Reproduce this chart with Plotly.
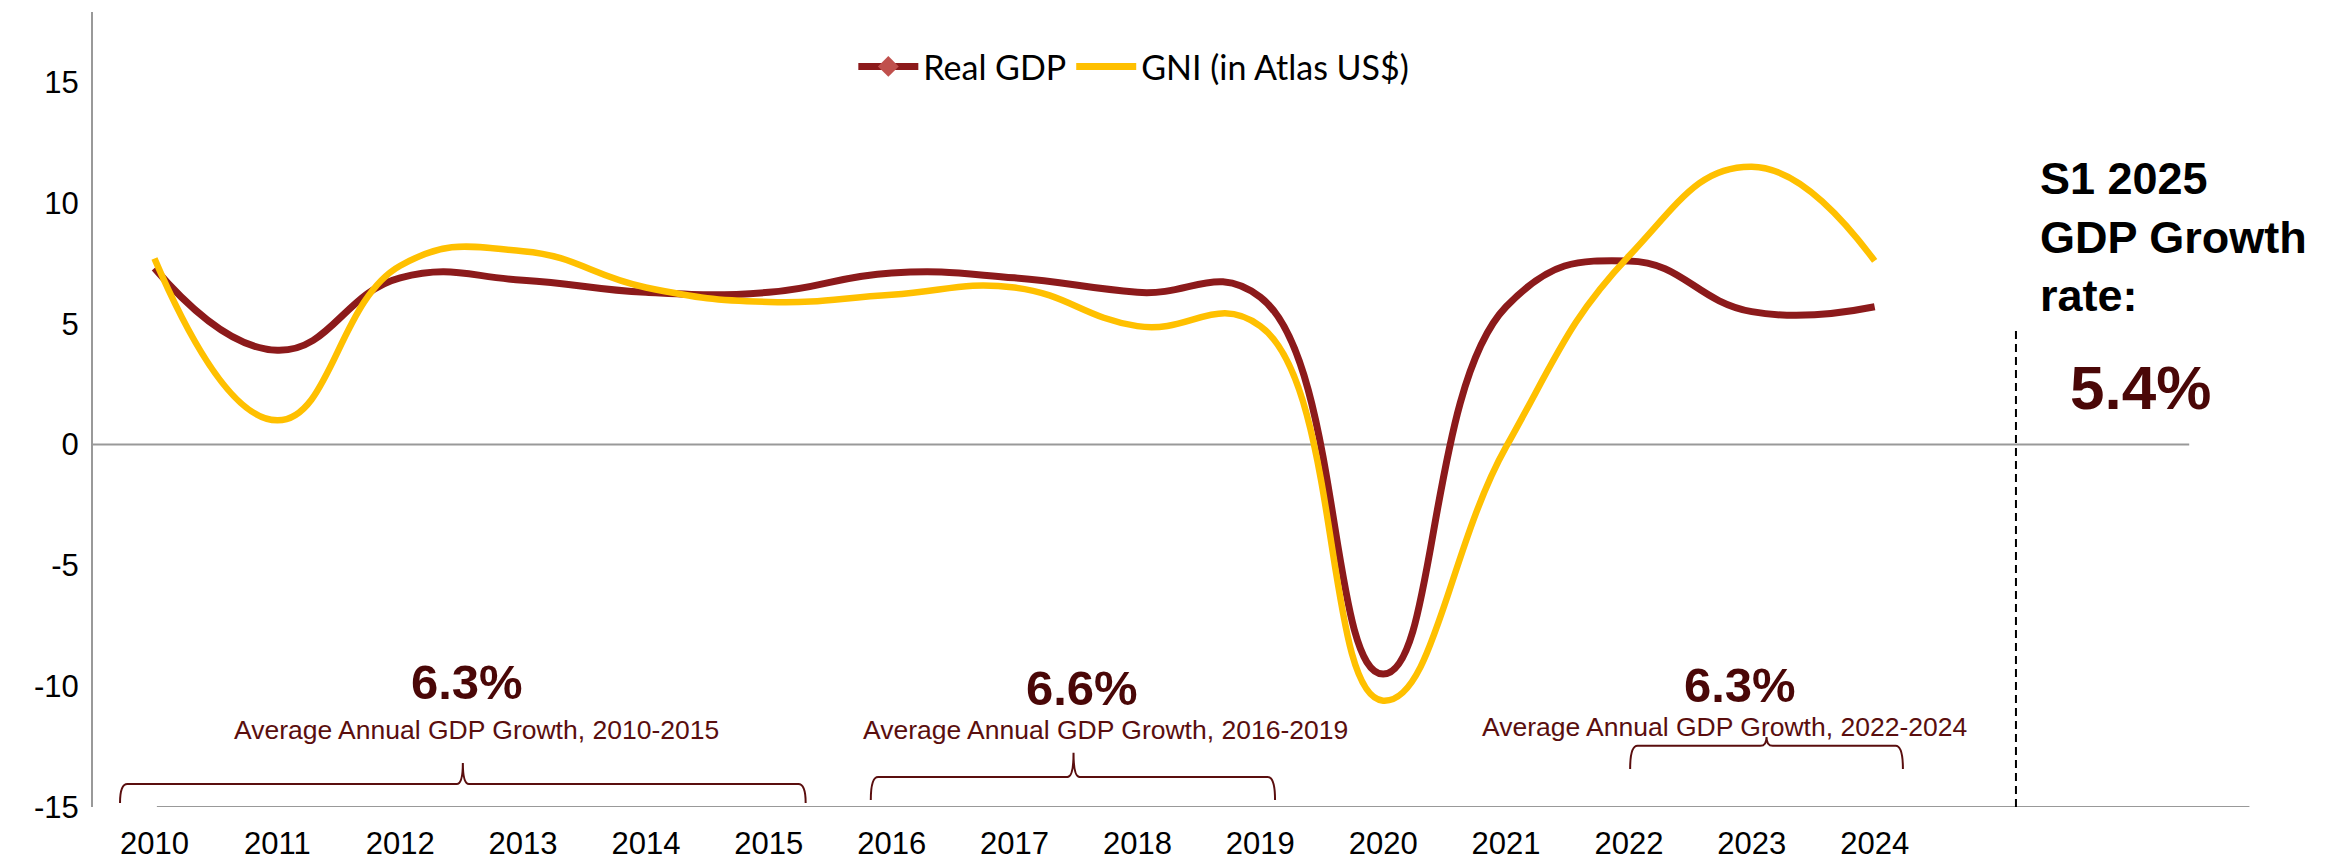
import plotly.graph_objects as go

# ---- data ----
years = [2010, 2011, 2012, 2013, 2014, 2015, 2016, 2017, 2018, 2019, 2020, 2021, 2022, 2023, 2024]
year_labels = [str(y) for y in years]
real_gdp = [7.3, 3.9, 6.9, 6.8, 6.3, 6.3, 7.1, 6.9, 6.3, 6.1, -9.5, 5.7, 7.6, 5.5, 5.7]
gni_atlas = [7.7, 1.0, 7.4, 8.0, 6.5, 5.9, 6.2, 6.5, 4.9, 4.9, -10.6, -0.1, 7.8, 11.5, 7.6]
y_ticks = [-15, -10, -5, 0, 5, 10, 15]

period_avgs = ["6.3%", "6.6%", "6.3%"]
period_labels = ["Average Annual GDP Growth, 2010-2015",
                 "Average Annual GDP Growth, 2016-2019",
                 "Average Annual GDP Growth, 2022-2024"]
s1_title = "S1 2025<br>GDP Growth<br>rate:"
s1_value = "5.4%"

# ---- styles / positions ----
RED = "#8C1A1B"
RED_MARK = "#C0504D"
YELLOW = "#FFC000"
MAROON = "#4A0707"
MAROON_TXT = "#5A0E0E"
AXIS_GRAY = "#999999"
FONT = "Liberation Sans, Arial, sans-serif"

fig = go.Figure()
fig.add_trace(go.Scatter(x=years, y=real_gdp, mode="lines", name="Real GDP",
                         line=dict(color=RED, width=7, shape="spline", smoothing=1.3),
                         showlegend=False))
fig.add_trace(go.Scatter(x=years, y=gni_atlas, mode="lines", name="GNI (in Atlas US$)",
                         line=dict(color=YELLOW, width=6.5, shape="spline", smoothing=1.3),
                         showlegend=False))
# legend proxies
fig.add_trace(go.Scatter(x=[None], y=[None], mode="lines+markers", name="Real GDP",
                         line=dict(color=RED, width=7),
                         marker=dict(symbol="diamond", size=20, color=RED_MARK)))
fig.add_trace(go.Scatter(x=[None], y=[None], mode="lines", name="GNI (in Atlas US$)",
                         line=dict(color=YELLOW, width=7)))

shapes = []
# zero line and bottom baseline
shapes.append(dict(type="line", xref="x", yref="y", x0=2009.5, x1=2026.56, y0=0, y1=0,
                   line=dict(color=AXIS_GRAY, width=2), layer="below"))
shapes.append(dict(type="line", xref="x", yref="y", x0=2010.02, x1=2027.05, y0=-15, y1=-15,
                   line=dict(color=AXIS_GRAY, width=2), layer="below"))
# dashed separator
shapes.append(dict(type="line", xref="x", yref="y", x0=2025.15, x1=2025.15, y0=-15, y1=4.74,
                   line=dict(color="black", width=2, dash="8px,5px")))

# curly brackets (xl, xm, xr, y_horizontal, y_bottom, y_tip)
brackets = [
    (2009.72, 2012.51, 2015.30, -14.05, -14.83, -13.18),
    (2015.83, 2017.48, 2019.12, -13.76, -14.71, -12.76),
    (2022.01, 2023.12, 2024.23, -12.47, -13.43, -12.10),
]
for xl, xm, xr, yh, yb, yt in brackets:
    dx = 0.06
    dm = 0.05
    path = (f"M {xl},{yb} Q {xl},{yh} {xl+dx},{yh} L {xm-dm},{yh} "
            f"Q {xm},{yh} {xm},{yt} Q {xm},{yh} {xm+dm},{yh} "
            f"L {xr-dx},{yh} Q {xr},{yh} {xr},{yb}")
    shapes.append(dict(type="path", xref="x", yref="y", path=path,
                       line=dict(color=MAROON_TXT, width=2)))

annotations = []
avg_pos = [(2012.54, -9.83), (2017.55, -10.07), (2022.90, -9.95)]
lab_pos = [(2012.62, -11.81), (2017.74, -11.81), (2022.78, -11.69)]
for txt, (x, y) in zip(period_avgs, avg_pos):
    annotations.append(dict(x=x, y=y, xref="x", yref="y", text=f"<b>{txt}</b>", showarrow=False,
                            font=dict(family=FONT, size=49, color=MAROON),
                            xanchor="center", yanchor="middle"))
for txt, (x, y) in zip(period_labels, lab_pos):
    annotations.append(dict(x=x, y=y, xref="x", yref="y", text=txt, showarrow=False,
                            font=dict(family=FONT, size=26.5, color=MAROON_TXT),
                            xanchor="center", yanchor="middle"))
annotations.append(dict(x=2025.33, y=8.58, xref="x", yref="y", text=f"<b>{s1_title}</b>",
                        showarrow=False, align="left",
                        font=dict(family=FONT, size=45, color="black"),
                        xanchor="left", yanchor="middle"))
annotations.append(dict(x=2026.16, y=2.38, xref="x", yref="y", text=f"<b>{s1_value}</b>",
                        showarrow=False, font=dict(family=FONT, size=62, color=MAROON),
                        xanchor="center", yanchor="middle"))

# page body adds an 8px offset; compensate in size and margins
fig.update_layout(
    width=2335, height=854,
    margin=dict(l=85, r=26, t=4, b=55, autoexpand=False),
    paper_bgcolor="white", plot_bgcolor="white",
    showlegend=True,
    legend=dict(orientation="h", x=0.468, y=0.931, xanchor="center", yanchor="middle",
                font=dict(family="Lato, Carlito, Calibri, sans-serif", size=34, color="black"),
                bgcolor="rgba(0,0,0,0)", itemwidth=60, tracegroupgap=0),
    shapes=shapes,
    annotations=annotations,
    xaxis=dict(range=[2009.5, 2027.6], tickvals=years, ticktext=year_labels,
               showgrid=False, zeroline=False, showline=False, automargin=False,
               ticks="outside", ticklen=9, tickcolor="rgba(0,0,0,0)",
               tickfont=dict(family=FONT, size=31, color="black")),
    yaxis=dict(range=[-15, 17.9], tickvals=y_ticks, ticktext=[str(v) for v in y_ticks],
               showgrid=False, zeroline=False, showline=True, automargin=False,
               linecolor=AXIS_GRAY, linewidth=2,
               ticks="outside", ticklen=6, tickcolor="rgba(0,0,0,0)",
               tickfont=dict(family=FONT, size=31, color="black")),
)

fig.write_html("out.html")
